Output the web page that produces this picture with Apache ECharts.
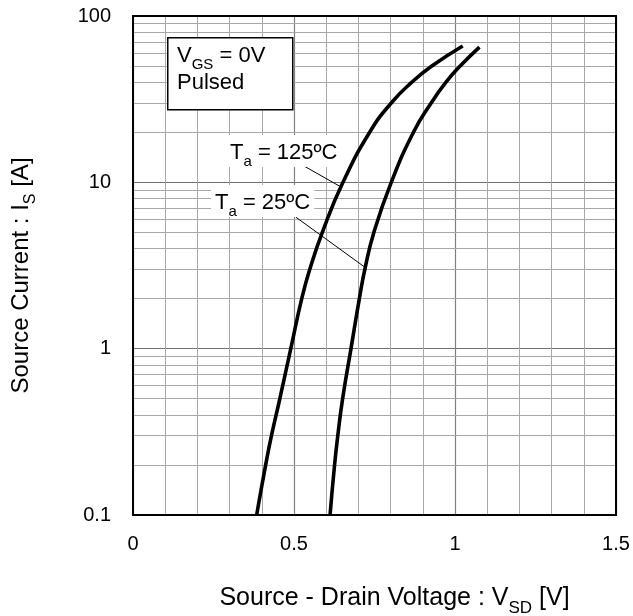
<!DOCTYPE html>
<html>
<head>
<meta charset="utf-8">
<script src="https://cdn.jsdelivr.net/npm/echarts@6/dist/echarts.min.js"></script>
<style>
html,body{margin:0;padding:0;background:#fff;}
#chart{width:633px;height:616px;}
</style>
</head>
<body>
<div id="chart"></div>
<script>
// ---- data ----
const vsd125 = [0.384, 0.412, 0.43, 0.456, 0.49, 0.524, 0.549, 0.588, 0.652, 0.735, 0.802, 0.866, 0.928, 1.024];
const is125  = [0.1,   0.2,   0.3,  0.5,   1,    2,     3,     5,     10,    20,    30,    40,    50,    66];
const vsd25  = [0.612, 0.626, 0.636, 0.651, 0.677, 0.703, 0.72, 0.748, 0.802, 0.871, 0.926, 0.972, 1.016, 1.076];
const is25   = [0.1,   0.2,   0.3,   0.5,   1,     2,     3,    5,     10,    20,    30,    40,    50,    65];
const xTicks = [0, 0.5, 1, 1.5];
const yTicks = [0.1, 1, 10, 100];
const yMinorGrid = [0.2,0.3,0.4,0.5,0.6,0.7,0.8,0.9,2,3,4,5,6,7,8,9,20,30,40,50,60,70,80,90];
// leader lines (data space): [V, I] start -> end
const leader125 = [[0.529, 12.6], [0.645, 9.4]];
const leader25  = [[0.506, 6.17], [0.722, 3.07]];

const FONT = 'Liberation Sans, Arial, sans-serif';
const chart = echarts.init(document.getElementById('chart'), null, {renderer: 'canvas'});

const pair = (xs, ys) => xs.map((x, i) => [x, ys[i]]);

const annRich = {
  n: {fontSize: 22, fontFamily: FONT, color: '#000', lineHeight: 27, verticalAlign: 'bottom'},
  s: {fontSize: 15, fontFamily: FONT, color: '#000', lineHeight: 27, verticalAlign: 'bottom', padding: [0,0,-5,0]}
};
const nameRich = {
  n: {fontSize: 24, fontFamily: FONT, color: '#000', lineHeight: 28, verticalAlign: 'bottom'},
  s: {fontSize: 16, fontFamily: FONT, color: '#000', lineHeight: 28, verticalAlign: 'bottom', padding: [0,0,-6,0]}
};
const xNameRich = {
  n: {fontSize: 25, fontFamily: FONT, color: '#000', lineHeight: 28, verticalAlign: 'bottom'},
  s: {fontSize: 17, fontFamily: FONT, color: '#000', lineHeight: 28, verticalAlign: 'bottom', padding: [0,0,-6,0]}
};

const option = {
  animation: false,
  backgroundColor: '#fff',
  grid: {left: 133, top: 16, width: 483, height: 499, outerBoundsMode: 'none', containLabel: false,
    show: true, borderColor: '#000', borderWidth: 2, backgroundColor: 'transparent', z: 10},
  xAxis: {
    type: 'value', min: xTicks[0], max: xTicks[xTicks.length-1], interval: 0.5,
    axisLine: {show: true, lineStyle: {color: '#000', width: 2}},
    axisTick: {show: false},
    axisLabel: {fontSize: 20, fontFamily: FONT, color: '#000', margin: 19,
      formatter: v => xTicks.some(t => Math.abs(t - v) < 1e-9) ? String(v) : ''},
    splitLine: {show: true, lineStyle: {color: '#808080', width: 1.2}},
    minorTick: {show: false, splitNumber: 5},
    minorSplitLine: {show: true, lineStyle: {color: '#a8a8a8', width: 1}},
    name: '{n|Source - Drain Voltage : V}{s|SD}{n| [V]}',
    nameLocation: 'middle', nameGap: 68,
    nameTextStyle: {rich: xNameRich, padding: [0, 0, 0, 40]}
  },
  yAxis: {
    type: 'log', logBase: 10, min: yTicks[0], max: yTicks[yTicks.length-1],
    axisLine: {show: true, lineStyle: {color: '#000', width: 2}},
    axisTick: {show: false},
    axisLabel: {fontSize: 20, fontFamily: FONT, color: '#000', margin: 22,
      formatter: v => String(v)},
    splitLine: {show: true, lineStyle: {color: '#707070', width: 1.2}},
    minorSplitLine: {show: false},
    name: '{n|Source Current : I}{s|S}{n| [A]}',
    nameLocation: 'middle', nameGap: 100, nameRotate: 90,
    nameTextStyle: {rich: nameRich, padding: [0, 20, 0, 0]}
  },
  series: [
    {
      type: 'line', data: [], silent: true,
      markLine: {
        silent: true, symbol: 'none', label: {show: false}, animation: false,
        lineStyle: {color: '#a8a8a8', width: 1, type: 'solid'},
        data: yMinorGrid.map(v => ({yAxis: v}))
      }
    },
    {
      name: '125', type: 'line', data: pair(vsd125, is125), smooth: 0.5,
      symbol: 'none', lineStyle: {color: '#000', width: 3.6}, z: 5,
      markLine: {
        silent: true, symbol: 'none', label: {show: false},
        lineStyle: {color: '#000', width: 1, type: 'solid'},
        data: [[{coord: leader125[0]}, {coord: leader125[1]}]]
      }
    },
    {
      name: '25', type: 'line', data: pair(vsd25, is25), smooth: 0.5,
      symbol: 'none', lineStyle: {color: '#000', width: 3.6}, z: 5,
      markLine: {
        silent: true, symbol: 'none', label: {show: false},
        lineStyle: {color: '#000', width: 1, type: 'solid'},
        data: [[{coord: leader25[0]}, {coord: leader25[1]}]]
      }
    }
  ],
  graphic: [
    {type: 'rect', left: 167, top: 37, z: 20,
      shape: {width: 125, height: 72},
      style: {fill: '#fff', stroke: '#000', lineWidth: 1.5}},
    {type: 'text', left: 177, top: 45, z: 21,
      style: {text: '{n|V}{s|GS}{n| = 0V}\n{n|Pulsed}', rich: annRich}},
    {type: 'text', left: 226, top: 135, z: 21,
      style: {text: '{n|T}{s|a}{n| = 125ºC}', rich: annRich, backgroundColor: '#fff', padding: [2, 4, 3, 4]}},
    {type: 'text', left: 211, top: 185, z: 21,
      style: {text: '{n|T}{s|a}{n| = 25ºC}', rich: annRich, backgroundColor: '#fff', padding: [2, 4, 3, 4]}}
  ]
};
chart.setOption(option);
</script>
</body>
</html>
